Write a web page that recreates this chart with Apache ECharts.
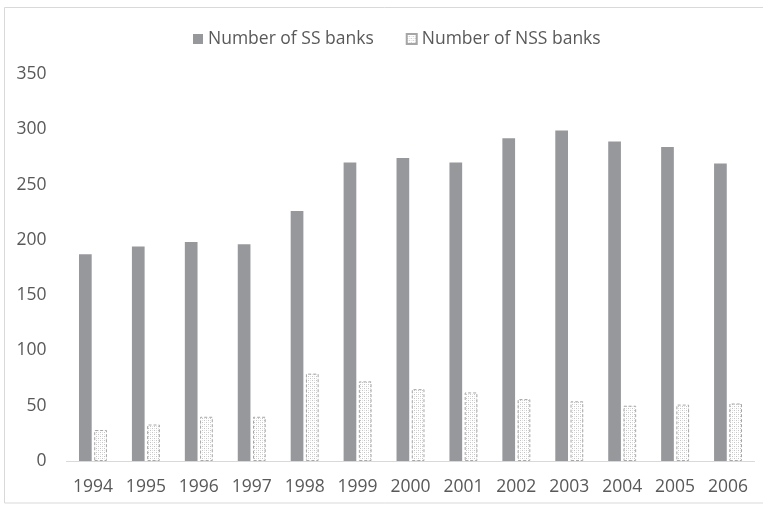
<!DOCTYPE html>
<html>
<head>
<meta charset="utf-8">
<script src="https://cdn.jsdelivr.net/npm/echarts@6/dist/echarts.min.js"></script>
<style>html,body{margin:0;padding:0;background:#fff}#c{width:763px;height:508px}</style>
</head>
<body>
<div id="c"></div>
<script>
const years = ['1994','1995','1996','1997','1998','1999','2000','2001','2002','2003','2004','2005','2006'];
const ssBanks = [187,194,198,196,226,270,274,270,292,299,289,284,269];
const nssBanks = [28,33,40,40,79,72,65,62,56,54,50,51,52];
const yTicks = [0,50,100,150,200,250,300,350];

function makePattern(){
  const c = document.createElement('canvas');
  c.width = 4; c.height = 4;
  const g = c.getContext('2d');
  g.fillStyle = '#ffffff'; g.fillRect(0,0,4,4);
  g.fillStyle = '#c4c4c4';
  g.fillRect(0,0,1,1); g.fillRect(2,2,1,1);
  g.fillStyle = '#e2e2e2';
  g.fillRect(2,0,1,1); g.fillRect(0,2,1,1);
  return c;
}
const pat = {image: makePattern(), repeat: 'repeat'};
const font = '"Open Sans", sans-serif';
const chart = echarts.init(document.getElementById('c'));
chart.setOption({
  animation: false,
  backgroundColor: '#fff',
  graphic: [{type:'rect', shape:{x:4.5,y:7.5,width:800,height:495.5}, style:{fill:'none', stroke:'#d9d9d9', lineWidth:1}, silent:true, z:-1}],
  legend: {
    top: 25, left: 188, itemWidth: 10, itemHeight: 10, itemGap: 32,
    textStyle: {fontFamily: font, fontSize: 17.5, color: '#595959'},
    data: [{name:'Number of SS banks', icon:'rect'}, {name:'Number of NSS banks', icon:'rect'}]
  },
  grid: {left: 66.5, right: 8.5, top: 74, bottom: 47, containLabel: false},
  xAxis: {
    type: 'category', data: years,
    axisLine: {lineStyle: {color: '#d9d9d9'}}, axisTick: {show: false},
    axisLabel: {fontFamily: font, fontSize: 17.5, color: '#595959', margin: 17}
  },
  yAxis: {
    type: 'value', min: yTicks[0], max: yTicks[yTicks.length-1], interval: 50,
    axisLine: {show: false}, axisTick: {show: false}, splitLine: {show: false},
    axisLabel: {fontFamily: font, fontSize: 17.5, color: '#595959', margin: 20}
  },
  series: [
    {name: 'Number of SS banks', type: 'bar', data: ssBanks, barWidth: '24%', barGap: '20%',
     itemStyle: {color: '#97989c'}},
    {name: 'Number of NSS banks', type: 'bar', data: nssBanks, barWidth: '24%',
     itemStyle: {color: pat, borderColor: '#a6a6a6', borderWidth: 1, borderType: [3,2]}}
  ]
});
</script>
</body>
</html>
